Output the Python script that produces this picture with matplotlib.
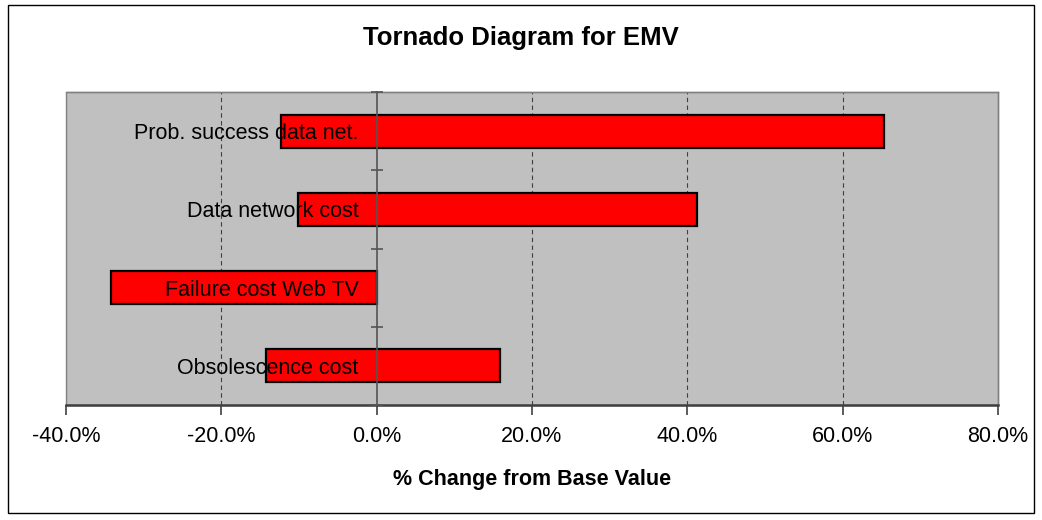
import matplotlib
matplotlib.use("Agg")
import matplotlib.pyplot as plt
from matplotlib.patches import Rectangle
from matplotlib.ticker import FuncFormatter, FixedLocator

plt.rcParams['font.family'] = ['Liberation Sans', 'DejaVu Sans']

# Sensitivity inputs, top to bottom, with % change in EMV at low / high settings
variables = ["Prob. success data net.", "Data network cost",
             "Failure cost Web TV", "Obsolescence cost"]
low_change = [-12.3, -10.1, -34.2, -14.2]
high_change = [65.3, 41.3, 0.0, 15.9]
x_ticks = [-40, -20, 0, 20, 40, 60, 80]

fig = plt.figure(figsize=(10.42, 5.2), dpi=100)
fig.patches.append(Rectangle((8 / 1042, 1 - 513 / 520), 1026 / 1042, 508 / 520,
                             transform=fig.transFigure, fill=False,
                             edgecolor="black", linewidth=1.0))

ax = fig.add_axes([66 / 1042, 1 - 405 / 520, 932 / 1042, 313 / 520])
ax.set_facecolor("#c0c0c0")
ax.set_axisbelow(False)

# plot-area border
ax.add_patch(Rectangle((0, 0), 1, 1, transform=ax.transAxes, fill=False,
                       edgecolor="#808080", linewidth=1.0, zorder=0.9,
                       clip_on=False))

n = len(variables)
ypos = list(range(n))[::-1]
for y, lo, hi in zip(ypos, low_change, high_change):
    ax.barh(y, hi - lo, left=lo, height=0.42, color="#ff0000",
            edgecolor="black", linewidth=1.6, zorder=2)

ax.set_xlim(-40, 80)
ax.set_ylim(-0.5, n - 0.5)

# dashed gridlines
for t in x_ticks:
    if t not in (-40, 0, 80):
        ax.axvline(t, color="#404040", linestyle=(0, (4, 3)), linewidth=0.8, zorder=1)

# category axis crossing at 0
ax.spines['left'].set_position(('data', 0))
ax.spines['left'].set_color("#555555")
ax.spines['left'].set_linewidth(1.2)
ax.spines['left'].set_zorder(3)
for s in ('top', 'right'):
    ax.spines[s].set_color("#808080")
    ax.spines[s].set_linewidth(1.0)
ax.spines['bottom'].set_color("#404040")
ax.spines['bottom'].set_linewidth(1.8)

ax.yaxis.set_major_locator(FixedLocator(ypos))
ax.set_yticklabels(variables, fontsize=15.5)
ax.yaxis.set_minor_locator(FixedLocator([i - 0.5 for i in range(n + 1)]))
ax.tick_params(axis='y', which='major', length=0, pad=13)
ax.tick_params(axis='y', which='minor', length=8, direction='inout',
               color="#555555", width=1.2)

ax.xaxis.set_major_locator(FixedLocator(x_ticks))
ax.xaxis.set_major_formatter(FuncFormatter(lambda v, p: f"{v:.1f}%"))
ax.tick_params(axis='x', which='major', length=7, direction='out', color="#404040",
               width=1.2, labelsize=15.5, pad=8)

ax.set_xlabel("% Change from Base Value", fontsize=15.5, fontweight='bold', labelpad=16)
fig.text(0.5, 1 - 38 / 520, "Tornado Diagram for EMV", ha='center', va='center',
         fontsize=18.5, fontweight='bold')

fig.savefig("out.png", dpi=100)
